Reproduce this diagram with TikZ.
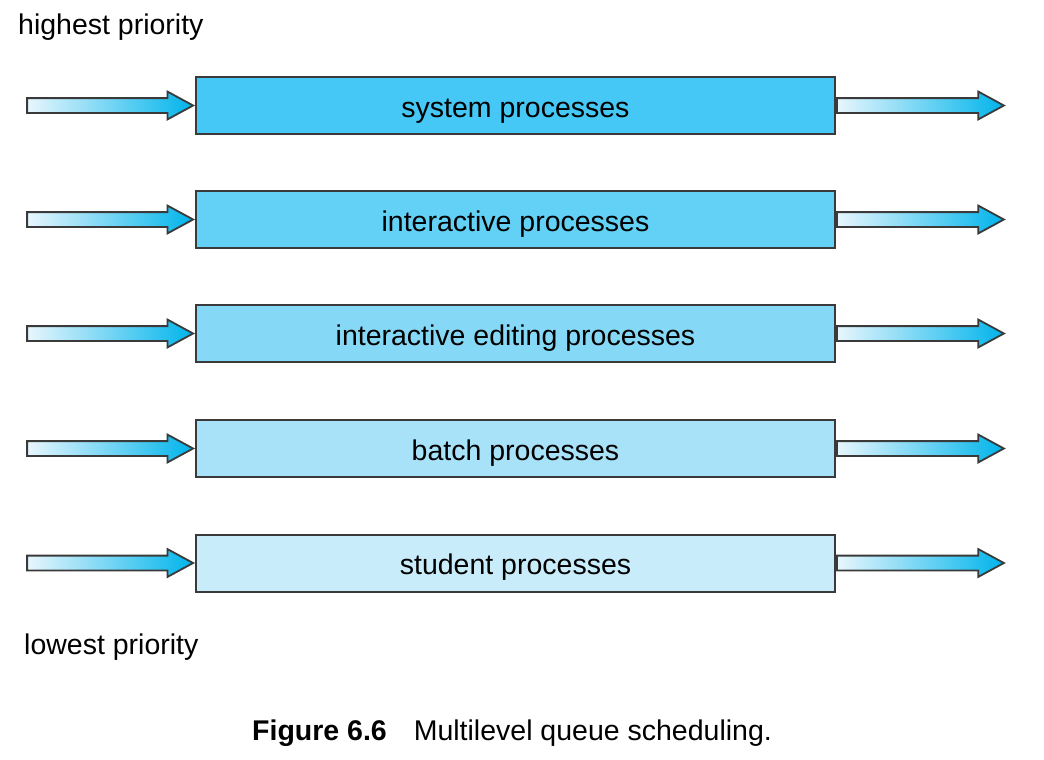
\documentclass[tikz,border=0pt]{standalone}
\usepackage{fontspec}
\setmainfont{Liberation Sans}
\usepackage{tikz}
\usetikzlibrary{positioning}
\usetikzlibrary{shapes.arrows}

\definecolor{qone}{RGB}{69,200,245}
\definecolor{qtwo}{RGB}{99,208,245}
\definecolor{qthree}{RGB}{134,217,246}
\definecolor{qfour}{RGB}{168,226,248}
\definecolor{qfive}{RGB}{200,236,250}
\definecolor{arrowlight}{RGB}{232,246,253}
\definecolor{arrowdark}{RGB}{0,180,235}
\definecolor{edge}{RGB}{58,58,58}

\tikzset{
  qbox/.style={draw=edge, line width=2pt, minimum width=639pt, minimum height=57pt,
    inner sep=0pt, text height=23pt, text depth=0pt, font=\fontsize{28.5}{34}\selectfont},
  blockarrow/.style={single arrow, draw=edge, line width=1.8pt, left color=arrowlight,
    right color=arrowdark, minimum width=0pt, inner xsep=0pt, inner ysep=6.5pt,
    text height=0pt, text depth=0pt, single arrow head extend=6.5pt,
    single arrow tip angle=57, minimum height=#1},
  blockarrow/.default=166pt,
  label/.style={font=\fontsize{28.5}{34}\selectfont, inner sep=0pt}
}

\begin{document}
\begin{tikzpicture}[x=1pt, y=-1pt]

\useasboundingbox (0,0) rectangle (1044,760);

% Priorities
\node[label, anchor=base west] at (18,35) (high) {highest priority};
\node[label, anchor=base west] at (24,654) (low) {lowest priority};

% Queue 1
\node[qbox, fill=qone] at (515.5,105.5) (q1) {system processes};
\node[blockarrow, anchor=tip] at (q1.west) (in1) {};
\node[blockarrow=167pt, anchor=tail] at (q1.east) (out1) {};

% Queue 2
\node[qbox, fill=qtwo] at (515.5,219.5) (q2) {interactive processes};
\node[blockarrow, anchor=tip] at (q2.west) (in2) {};
\node[blockarrow=167pt, anchor=tail] at (q2.east) (out2) {};

% Queue 3
\node[qbox, fill=qthree] at (515.5,333.5) (q3) {interactive editing processes};
\node[blockarrow, anchor=tip] at (q3.west) (in3) {};
\node[blockarrow=167pt, anchor=tail] at (q3.east) (out3) {};

% Queue 4
\node[qbox, fill=qfour] at (515.5,448.5) (q4) {batch processes};
\node[blockarrow, anchor=tip] at (q4.west) (in4) {};
\node[blockarrow=167pt, anchor=tail] at (q4.east) (out4) {};

% Queue 5
\node[qbox, fill=qfive] at (515.5,563) (q5) {student processes};
\node[blockarrow, anchor=tip] at (q5.west) (in5) {};
\node[blockarrow=167pt, anchor=tail] at (q5.east) (out5) {};

% Caption
\node[label, anchor=base west] at (252,740) (cap) {\textbf{Figure 6.6}\hspace{27pt}Multilevel queue scheduling.};

\end{tikzpicture}
\end{document}
